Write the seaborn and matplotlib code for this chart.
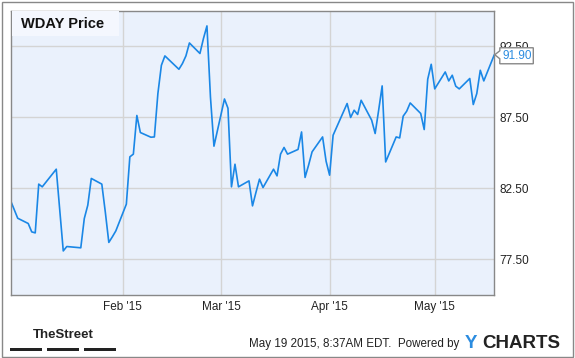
import pandas as pd
import numpy as np
import matplotlib
matplotlib.use("Agg")
import matplotlib.pyplot as plt
import seaborn as sns
from matplotlib.patches import Rectangle, Polygon

# WDAY daily closes
dates = [
    "2014-12-31", "2015-01-02", "2015-01-05", "2015-01-06", "2015-01-07", "2015-01-08",
    "2015-01-09", "2015-01-12", "2015-01-13", "2015-01-14", "2015-01-15", "2015-01-16",
    "2015-01-20", "2015-01-21", "2015-01-22", "2015-01-23", "2015-01-26", "2015-01-27",
    "2015-01-28", "2015-01-29", "2015-01-30", "2015-02-02", "2015-02-03", "2015-02-04",
    "2015-02-05", "2015-02-06", "2015-02-09", "2015-02-10", "2015-02-11", "2015-02-12",
    "2015-02-13", "2015-02-17", "2015-02-18", "2015-02-19", "2015-02-20", "2015-02-23",
    "2015-02-24", "2015-02-25", "2015-02-26", "2015-02-27", "2015-03-02", "2015-03-03",
    "2015-03-04", "2015-03-05", "2015-03-06", "2015-03-09", "2015-03-10", "2015-03-11",
    "2015-03-12", "2015-03-13", "2015-03-16", "2015-03-17", "2015-03-18", "2015-03-19",
    "2015-03-20", "2015-03-23", "2015-03-24", "2015-03-25", "2015-03-26", "2015-03-27",
    "2015-03-30", "2015-03-31", "2015-04-01", "2015-04-02", "2015-04-06", "2015-04-07",
    "2015-04-08", "2015-04-09", "2015-04-10", "2015-04-13", "2015-04-14", "2015-04-15",
    "2015-04-16", "2015-04-17", "2015-04-20", "2015-04-21", "2015-04-22", "2015-04-23",
    "2015-04-24", "2015-04-27", "2015-04-28", "2015-04-29", "2015-04-30", "2015-05-01",
    "2015-05-04", "2015-05-05", "2015-05-06", "2015-05-07", "2015-05-08", "2015-05-11",
    "2015-05-12", "2015-05-13", "2015-05-14", "2015-05-15", "2015-05-18",
]
prices = [
    81.62, 80.40, 80.03, 79.44, 79.37, 82.80,
    82.61, 83.54, 83.85, 80.97, 78.10, 78.41,
    78.32, 80.38, 81.32, 83.20, 82.80, 80.83,
    78.70, 79.09, 79.51, 81.39, 84.72, 84.91,
    87.63, 86.43, 86.10, 86.12, 89.17, 91.16,
    91.82, 90.88, 91.28, 91.82, 92.73, 91.99,
    93.04, 93.93, 88.93, 85.47, 88.79, 88.14,
    82.61, 84.20, 82.61, 83.03, 81.27, 82.23,
    83.15, 82.56, 83.85, 83.38, 84.91, 85.38,
    84.91, 85.24, 86.47, 83.27, 84.13, 85.07,
    86.12, 84.41, 83.43, 86.24, 88.47, 87.49,
    88.00, 87.70, 88.70, 87.30, 86.36, 88.00,
    89.71, 84.36, 86.12, 86.05, 87.58, 87.93,
    88.51, 87.77, 86.64, 90.18, 91.23, 89.50,
    90.69, 90.06, 90.46, 89.69, 89.50, 90.23,
    88.40, 89.17, 90.81, 90.06, 91.90,
]

month_ticks = ["2015-02-01", "2015-03-01", "2015-04-01", "2015-05-01"]
month_labels = ["Feb '15", "Mar '15", "Apr '15", "May '15"]
price_ticks = [77.5, 82.5, 87.5, 92.5]

df = pd.DataFrame({"Date": pd.to_datetime(dates), "Price": prices})

sns.set_style("white")
plt.rcParams["font.family"] = ["Liberation Sans", "DejaVu Sans"]

W, H = 575, 358
fig = plt.figure(figsize=(W / 100, H / 100), dpi=100)
fig.patch.set_facecolor("white")

ax = fig.add_axes([10.7 / W, 1 - 295 / H, 483.6 / W, 284.3 / H])
ax.set_facecolor("#eaf1fc")
sns.lineplot(data=df, x="Date", y="Price", ax=ax, color="#1a87e6", linewidth=1.2)

ax.set_xlim(df["Date"].iloc[0], df["Date"].iloc[-1])
ax.set_ylim(75, 95)
ax.yaxis.tick_right()
ax.set_yticks(price_ticks)
ax.set_yticklabels([f"{v:.2f}" for v in price_ticks])
ax.set_xticks(pd.to_datetime(month_ticks))
ax.set_xticklabels(month_labels)
ax.tick_params(length=0, labelsize=8.5, colors="#222222", pad=4)
ax.grid(True, color="#d4d4d4", linewidth=1)
ax.set_axisbelow(True)
ax.set_xlabel("")
ax.set_ylabel("")
for s in ax.spines.values():
    s.set_color("#888888")
    s.set_linewidth(1)

# title box
fig.add_artist(Rectangle((12 / W, 1 - 36 / H), 107 / W, 25 / H, transform=fig.transFigure,
                         fc="#f4f7fe", ec="none"))
fig.text(21 / W, 1 - 24 / H, "WDAY Price", fontsize=10.5, weight="bold", va="center",
         color="#111111")

# last price tag
fig.canvas.draw()
px, py = ax.transData.transform((matplotlib.dates.date2num(df["Date"].iloc[-1]), prices[-1]))
py = H - py  # top-left origin
tag = [(px + 0.5, py), (px + 5.5, py - 4), (px + 5.5, py - 7), (px + 39, py - 7),
       (px + 39, py + 9), (px + 5.5, py + 9), (px + 5.5, py + 4)]
fig.add_artist(Polygon([(x / W, 1 - y / H) for x, y in tag], closed=True,
                       transform=fig.transFigure, fc="white", ec="#888888", lw=1))
fig.text((px + 22.5) / W, 1 - (py + 1) / H, f"{prices[-1]:.2f}", fontsize=8.5,
         color="#2b8ce0", ha="center", va="center")

# footer
fig.text(63 / W, 1 - 335 / H, "TheStreet", fontsize=9.5, weight="bold", ha="center",
         va="center", color="#222222")
for x0 in [10, 47, 84]:
    fig.add_artist(Rectangle((x0 / W, 1 - 350.8 / H), 32 / W, 3.3 / H,
                             transform=fig.transFigure, fc="#222222", ec="none"))

fig.text(459 / W, 1 - 344 / H, "May 19 2015, 8:37AM EDT.  Powered by", fontsize=8.4,
         ha="right", va="center", color="#222222")
fig.text(465 / W, 1 - 343.5 / H, "Y", fontsize=13.5, weight="bold", ha="left",
         va="center", color="#2b8ce0")
fig.text(482 / W, 1 - 343.5 / H, "CHARTS", fontsize=13.5, weight="bold", ha="left",
         va="center", color="#222222")

# outer frame
fig.add_artist(Rectangle((1.5 / W, 1.5 / H), 1 - 3.5 / W, 1 - 3.5 / H,
                         transform=fig.transFigure, fill=False, ec="#888888", lw=1))

fig.savefig("out.png", dpi=100, facecolor="white")
